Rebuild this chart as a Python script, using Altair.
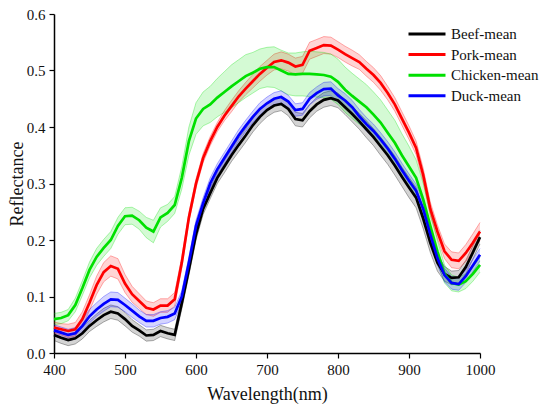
import altair as alt
import pandas as pd

wavelength = list(range(400, 1001, 10))

series_names = ["Beef-mean", "Pork-mean", "Chicken-mean", "Duck-mean"]
series_colors = ["#000000", "#ff0000", "#00e000", "#0000ff"]

beef_mean = [0.032, 0.027, 0.023, 0.026, 0.035, 0.048, 0.058, 0.067, 0.073, 0.070,
             0.060, 0.048, 0.040, 0.031, 0.032, 0.039, 0.035, 0.032, 0.088, 0.148,
             0.210, 0.255, 0.283, 0.310, 0.330, 0.350, 0.368, 0.385, 0.403, 0.418,
             0.430, 0.438, 0.441, 0.432, 0.414, 0.412, 0.428, 0.440, 0.448, 0.451,
             0.447, 0.435, 0.423, 0.410, 0.396, 0.382, 0.366, 0.350, 0.332, 0.312,
             0.293, 0.275, 0.238, 0.195, 0.160, 0.140, 0.133, 0.134, 0.152, 0.178,
             0.205]
pork_mean = [0.045, 0.042, 0.039, 0.042, 0.060, 0.089, 0.120, 0.143, 0.154, 0.149,
             0.123, 0.104, 0.092, 0.080, 0.077, 0.084, 0.084, 0.095, 0.160, 0.240,
             0.300, 0.345, 0.375, 0.400, 0.420, 0.437, 0.454, 0.468, 0.481, 0.494,
             0.505, 0.515, 0.518, 0.514, 0.507, 0.510, 0.535, 0.540, 0.545, 0.544,
             0.537, 0.529, 0.522, 0.515, 0.503, 0.492, 0.478, 0.460, 0.440, 0.415,
             0.390, 0.363, 0.315, 0.255, 0.215, 0.180, 0.165, 0.163, 0.177, 0.195,
             0.215]
chicken_mean = [0.060, 0.062, 0.067, 0.085, 0.115, 0.147, 0.170, 0.186, 0.200, 0.225,
                0.242, 0.243, 0.235, 0.222, 0.215, 0.240, 0.248, 0.262, 0.310, 0.375,
                0.415, 0.432, 0.440, 0.452, 0.462, 0.472, 0.481, 0.490, 0.496, 0.503,
                0.506, 0.506, 0.500, 0.494, 0.493, 0.494, 0.494, 0.493, 0.492, 0.489,
                0.480, 0.466, 0.455, 0.445, 0.435, 0.422, 0.408, 0.390, 0.372, 0.350,
                0.330, 0.310, 0.272, 0.225, 0.180, 0.140, 0.124, 0.121, 0.127, 0.140,
                0.156]
duck_mean = [0.040, 0.036, 0.032, 0.035, 0.048, 0.065, 0.077, 0.087, 0.095, 0.094,
             0.085, 0.075, 0.065, 0.057, 0.057, 0.062, 0.064, 0.070, 0.100, 0.160,
             0.225, 0.265, 0.300, 0.325, 0.345, 0.365, 0.385, 0.402, 0.418, 0.432,
             0.442, 0.450, 0.453, 0.445, 0.430, 0.432, 0.450, 0.460, 0.467, 0.468,
             0.456, 0.447, 0.435, 0.419, 0.405, 0.393, 0.378, 0.362, 0.344, 0.324,
             0.305, 0.287, 0.255, 0.210, 0.168, 0.138, 0.124, 0.122, 0.136, 0.155,
             0.174]

beef_std = [0.010, 0.010, 0.010, 0.010, 0.010, 0.010, 0.011, 0.012, 0.012, 0.012,
            0.012, 0.011, 0.010, 0.010, 0.010, 0.010, 0.010, 0.010, 0.010, 0.010,
            0.010, 0.010, 0.010, 0.010, 0.011, 0.011, 0.012, 0.012, 0.012, 0.012,
            0.012, 0.012, 0.012, 0.012, 0.012, 0.012, 0.012, 0.012, 0.013, 0.013,
            0.013, 0.013, 0.014, 0.014, 0.015, 0.015, 0.016, 0.016, 0.017, 0.017,
            0.018, 0.018, 0.018, 0.017, 0.015, 0.013, 0.012, 0.012, 0.012, 0.012,
            0.012]
pork_std = [0.010, 0.010, 0.012, 0.012, 0.013, 0.014, 0.016, 0.017, 0.018, 0.018,
            0.016, 0.014, 0.013, 0.012, 0.012, 0.012, 0.012, 0.012, 0.010, 0.008,
            0.008, 0.008, 0.008, 0.008, 0.009, 0.010, 0.010, 0.011, 0.012, 0.013,
            0.013, 0.014, 0.015, 0.015, 0.015, 0.015, 0.015, 0.015, 0.015, 0.015,
            0.014, 0.014, 0.014, 0.013, 0.013, 0.013, 0.013, 0.012, 0.012, 0.012,
            0.012, 0.012, 0.012, 0.012, 0.012, 0.013, 0.014, 0.014, 0.015, 0.016,
            0.016]
chicken_std = [0.010, 0.010, 0.010, 0.012, 0.013, 0.014, 0.015, 0.015, 0.015, 0.015,
               0.015, 0.015, 0.016, 0.018, 0.020, 0.017, 0.015, 0.015, 0.020, 0.025,
               0.028, 0.030, 0.032, 0.034, 0.036, 0.038, 0.038, 0.038, 0.036, 0.035,
               0.035, 0.036, 0.036, 0.037, 0.038, 0.039, 0.040, 0.040, 0.040, 0.040,
               0.040, 0.040, 0.040, 0.040, 0.040, 0.040, 0.040, 0.040, 0.040, 0.038,
               0.036, 0.032, 0.028, 0.024, 0.020, 0.016, 0.014, 0.013, 0.013, 0.013,
               0.013]
duck_std = [0.010, 0.010, 0.010, 0.010, 0.011, 0.012, 0.012, 0.013, 0.013, 0.013,
            0.012, 0.012, 0.011, 0.011, 0.011, 0.011, 0.011, 0.011, 0.010, 0.010,
            0.010, 0.010, 0.010, 0.010, 0.010, 0.010, 0.010, 0.010, 0.010, 0.011,
            0.011, 0.011, 0.011, 0.011, 0.011, 0.011, 0.011, 0.011, 0.012, 0.012,
            0.012, 0.012, 0.012, 0.012, 0.012, 0.012, 0.012, 0.012, 0.012, 0.012,
            0.012, 0.012, 0.012, 0.012, 0.012, 0.012, 0.011, 0.011, 0.011, 0.011,
            0.011]

means = [beef_mean, pork_mean, chicken_mean, duck_mean]
stds = [beef_std, pork_std, chicken_std, duck_std]

rows = []
for name, m, s in zip(series_names, means, stds):
    for w, mv, sv in zip(wavelength, m, s):
        rows.append({"wl": w, "series": name, "mean": mv,
                     "lo": mv - sv, "hi": mv + sv})
df = pd.DataFrame(rows)

FONT = "Liberation Serif"

x_ticks = list(range(400, 1001, 50))
y_ticks = [round(i * 0.05, 2) for i in range(13)]

x_scale = alt.Scale(domain=[400, 1000], nice=False, zero=False)
y_scale = alt.Scale(domain=[0, 0.6], nice=False)

x_axis = alt.Axis(values=x_ticks, title="Wavelength(nm)", format="d",
                  labelExpr="datum.value % 100 == 0 ? datum.label : ''",
                  tickSize={"condition": {"test": "datum.value % 100 == 0", "value": 5}, "value": 3},
                  labelFont=FONT, titleFont=FONT, labelPadding=4, titlePadding=8,
                  grid=False, labelFlush=False)
y_axis = alt.Axis(values=y_ticks, title="Reflectance", format=".1f",
                  labelExpr="round(datum.value*100) % 10 == 0 ? datum.label : ''",
                  tickSize={"condition": {"test": "round(datum.value*100) % 10 == 0", "value": 5}, "value": 3},
                  labelFont=FONT, titleFont=FONT, labelPadding=4,
                  titleX=-28, titleBaseline="bottom", titleAngle=270,
                  grid=False, labelFlush=False)

layers = []
for i, (name, col) in enumerate(zip(series_names, series_colors)):
    sub = alt.Chart(df).transform_filter(alt.datum.series == name)
    if i == 0:
        xe = alt.X("wl:Q", scale=x_scale, axis=x_axis)
        ye = alt.Y("lo:Q", scale=y_scale, axis=y_axis)
    else:
        xe = alt.X("wl:Q", scale=x_scale)
        ye = alt.Y("lo:Q", scale=y_scale)
    layers.append(sub.mark_area(opacity=0.17, color=col).encode(
        x=xe, y=ye, y2="hi:Q"))
    layers.append(sub.mark_line(strokeWidth=0.7, opacity=0.45, color=col).encode(
        x=alt.X("wl:Q", scale=x_scale), y=alt.Y("lo:Q", scale=y_scale)))
    layers.append(sub.mark_line(strokeWidth=0.7, opacity=0.45, color=col).encode(
        x=alt.X("wl:Q", scale=x_scale), y=alt.Y("hi:Q", scale=y_scale)))

line = alt.Chart(df).mark_line(strokeWidth=2.7).encode(
    x=alt.X("wl:Q", scale=x_scale),
    y=alt.Y("mean:Q", scale=y_scale),
    color=alt.Color("series:N",
                    scale=alt.Scale(domain=series_names, range=series_colors),
                    sort=series_names,
                    legend=alt.Legend(title=None, orient="none",
                                      legendX=362, legendY=9,
                                      symbolType="M-2,0L2,0", symbolSize=342,
                                      symbolStrokeWidth=3,
                                      labelFont=FONT, labelFontSize=15,
                                      labelColor="#111111",
                                      rowPadding=1.6, labelOffset=13)),
)
layers.append(line)

chart = alt.layer(*layers).properties(
    width=426, height=339,
    autosize=alt.AutoSizeParams(type="none"),
    padding={"left": 46, "top": 6, "right": 62, "bottom": 52},
    background="white",
).configure_view(stroke=None).configure_axis(
    labelFont=FONT, labelFontSize=15, labelColor="#111111",
    titleFont=FONT, titleFontSize=18, titleFontWeight="normal", titleColor="#111111",
    domainColor="#000000", domainWidth=1.5, tickColor="#000000", tickWidth=1.2,
)

chart.save("out.html", embed_options={"renderer": "svg", "actions": False})
